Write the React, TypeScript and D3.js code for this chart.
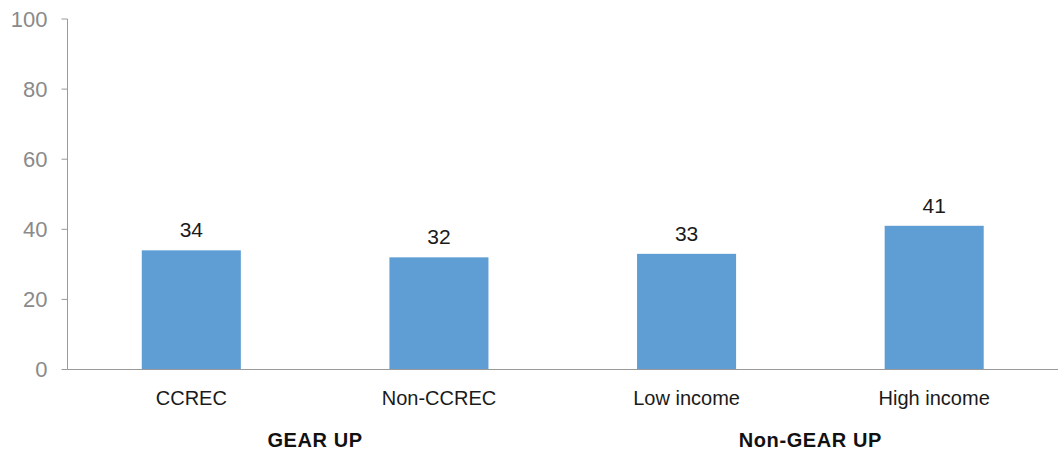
import React from "react";
import * as d3 from "d3";

const categories = ["CCREC", "Non-CCREC", "Low income", "High income"];
const values = [34, 32, 33, 41];
const groups = ["GEAR UP", "Non-GEAR UP"];
const groupMembers = [["CCREC", "Non-CCREC"], ["Low income", "High income"]];
const yTicks = [0, 20, 40, 60, 80, 100];

const W = 1060;
const H = 453;
const left = 67.5;
const right = 1058;
const top = 19;
const bottom = 369.5;
const font = "'Liberation Sans', Arial, sans-serif";

export default function App() {
  const x = d3.scaleBand<string>().domain(categories).range([left, right]).padding(0);
  const barW = x.bandwidth() * 0.4;
  const y = d3.scaleLinear().domain([0, 100]).range([bottom, top]);
  const cx = (c: string) => (x(c) as number) + x.bandwidth() / 2;

  return (
    <svg width={W} height={H} style={{ position: "absolute", left: 0, top: 0 }}>
      {/* y axis */}
      <line x1={left} x2={left} y1={top} y2={bottom} stroke="#9a9a9a" strokeWidth={1} />
      {yTicks.map((t) => (
        <g key={t}>
          <line x1={left - 6} x2={left} y1={y(t)} y2={y(t)} stroke="#9a9a9a" strokeWidth={1} />
          <text
            x={left - 20}
            y={y(t)}
            dy="0.36em"
            textAnchor="end"
            fontFamily={font}
            fontSize={22}
            fill="#8a8a8a"
          >
            {t}
          </text>
        </g>
      ))}
      {/* bars */}
      {categories.map((c, i) => (
        <g key={c}>
          <rect
            x={cx(c) - barW / 2}
            y={y(values[i])}
            width={barW}
            height={bottom - y(values[i])}
            fill="#5f9ed5"
          />
          <text
            x={cx(c)}
            y={y(values[i]) - 13}
            textAnchor="middle"
            fontFamily={font}
            fontSize={21}
            fill="#1a1a1a"
          >
            {values[i]}
          </text>
          <text
            x={cx(c)}
            y={405}
            textAnchor="middle"
            fontFamily={font}
            fontSize={20}
            fill="#1a1a1a"
          >
            {c}
          </text>
        </g>
      ))}
      {/* x axis baseline */}
      <line x1={left} x2={right} y1={bottom} y2={bottom} stroke="#9a9a9a" strokeWidth={1} />
      {/* group labels */}
      {groups.map((g, i) => {
        const m = groupMembers[i];
        const gx = (cx(m[0]) + cx(m[m.length - 1])) / 2;
        return (
          <text
            key={g}
            x={gx}
            y={447}
            textAnchor="middle"
            fontFamily={font}
            fontSize={20}
            fontWeight="bold"
            letterSpacing={0.6}
            fill="#111"
          >
            {g}
          </text>
        );
      })}
    </svg>
  );
}
